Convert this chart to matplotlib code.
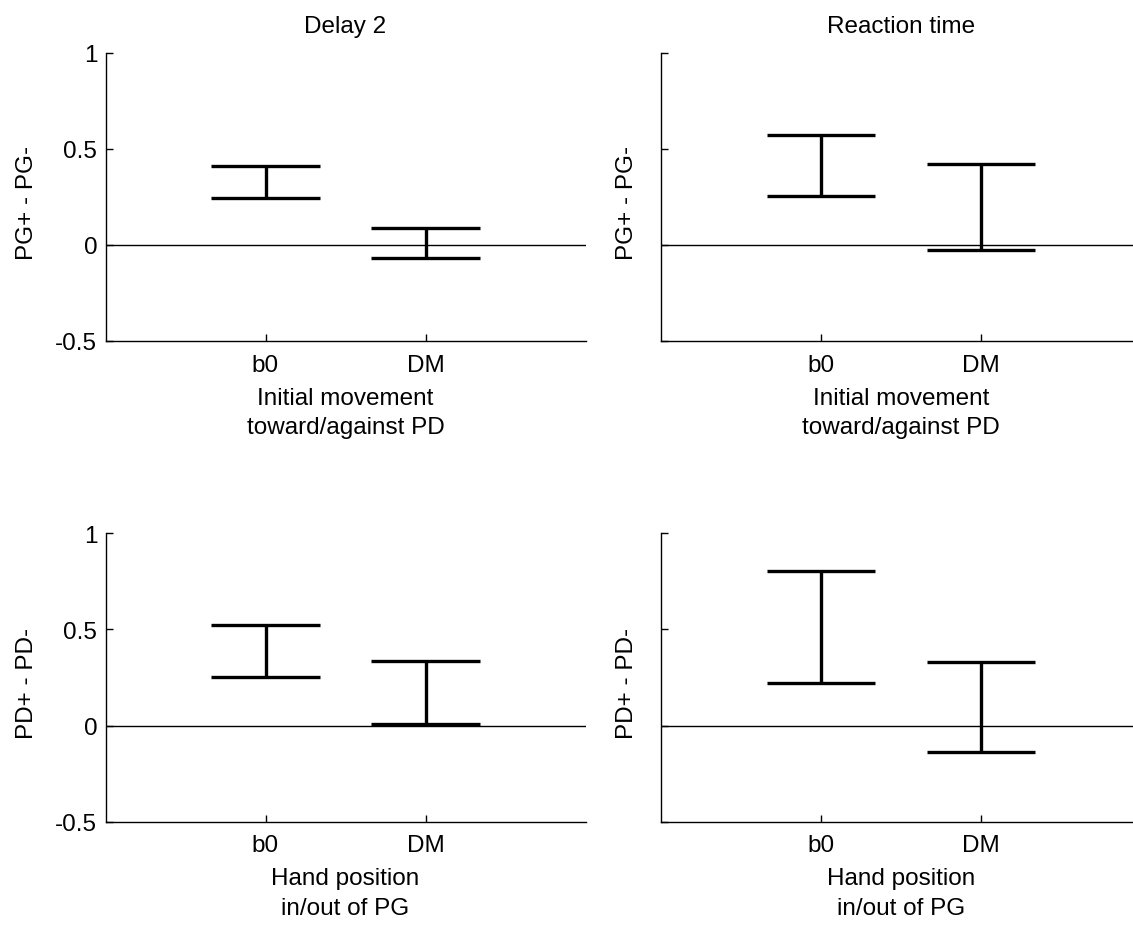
import matplotlib
matplotlib.use("Agg")
import matplotlib.pyplot as plt

plt.rcParams['font.family'] = ['Liberation Sans', 'DejaVu Sans']

# Conditions on the x axis
categories = ['b0', 'DM']
positions = [1, 2]

# Column titles (epochs) and row labels
epochs = ['Delay 2', 'Reaction time']
row_ylabels = ['PG+ - PG-', 'PD+ - PD-']
row_xlabels = ['Initial movement\ntoward/against PD', 'Hand position\nin/out of PG']

# Confidence interval bounds (lower / upper) per panel
delay2_move_lo = [0.245, -0.066]
delay2_move_hi = [0.410, 0.087]
rt_move_lo = [0.255, -0.026]
rt_move_hi = [0.569, 0.422]
delay2_hand_lo = [0.253, 0.008]
delay2_hand_hi = [0.524, 0.335]
rt_hand_lo = [0.222, -0.139]
rt_hand_hi = [0.806, 0.328]

y_ticks = [-0.5, 0, 0.5, 1]
y_ticklabels = ['-0.5', '0', '0.5', '1']

panels = [
    [(delay2_move_lo, delay2_move_hi), (rt_move_lo, rt_move_hi)],
    [(delay2_hand_lo, delay2_hand_hi), (rt_hand_lo, rt_hand_hi)],
]

W, H = 1133, 929
fig = plt.figure(figsize=(W / 100, H / 100), dpi=100)

FS = 17.5
cap_half = 0.34

lefts = [105.5, 661.0]
bottoms = [342.0, 822.7]
ax_w, ax_h = 480.0, 288.5

for r in range(2):
    for c in range(2):
        ax = fig.add_axes([lefts[c] / W, (H - bottoms[r]) / H, ax_w / W, ax_h / H])
        lo, hi = panels[r][c]
        ax.set_xlim(0, 3)
        ax.set_ylim(-0.5, 1)
        ax.axhline(0, color='black', lw=1.0, zorder=1)
        ax.vlines(positions, lo, hi, color='black', lw=2.4, zorder=3)
        for p, l, h in zip(positions, lo, hi):
            ax.hlines([l, h], p - cap_half, p + cap_half, color='black',
                      lw=2.4, zorder=3)
        for side in ('top', 'right'):
            ax.spines[side].set_visible(False)
        for side in ('left', 'bottom'):
            ax.spines[side].set_linewidth(1.0)
        ax.set_xticks(positions)
        ax.set_xticklabels(categories)
        ax.set_yticks(y_ticks)
        if c == 0:
            ax.set_yticklabels(y_ticklabels)
        else:
            ax.set_yticklabels([])
        ax.tick_params(direction='in', length=5, width=1.0, labelsize=FS)
        ax.tick_params(axis='x', pad=9)
        ax.tick_params(axis='y', pad=6)
        ax.set_xlabel(row_xlabels[r], fontsize=FS, labelpad=8, linespacing=1.45)
        ax.set_ylabel(row_ylabels[r], fontsize=FS)
        ax.yaxis.set_label_coords(-0.14 if c == 0 else -0.048, 0.483)
        if r == 0:
            ax.set_title(epochs[c], fontsize=FS, pad=15)

fig.savefig('out.png', dpi=100, facecolor='white')
